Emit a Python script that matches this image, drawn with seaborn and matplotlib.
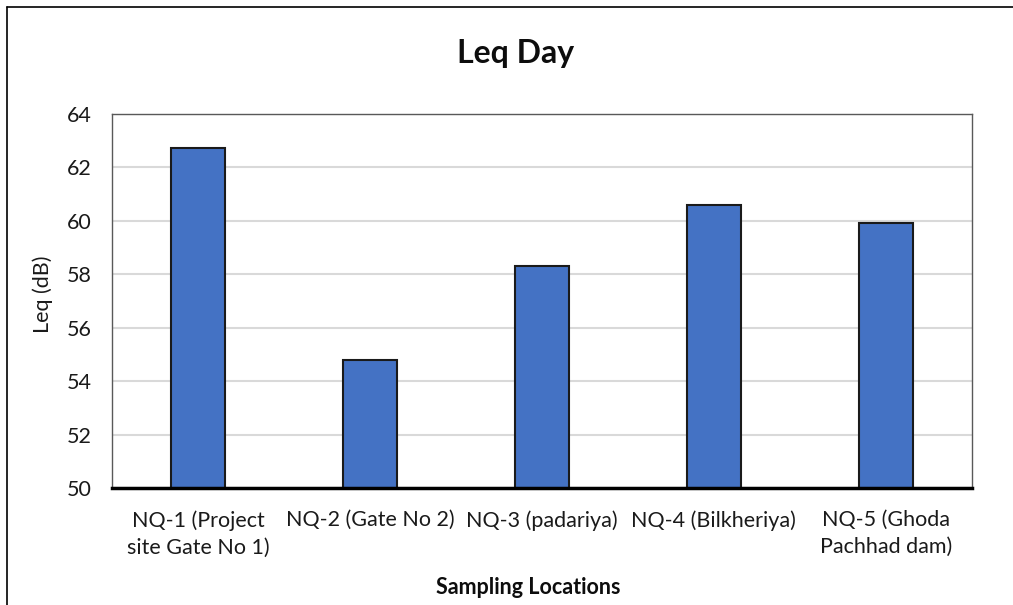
import matplotlib
matplotlib.use("Agg")
import matplotlib.pyplot as plt
from matplotlib.lines import Line2D
import seaborn as sns
import pandas as pd

categories = [
    "NQ-1 (Project\nsite Gate No 1)",
    "NQ-2 (Gate No 2)",
    "NQ-3 (padariya)",
    "NQ-4 (Bilkheriya)",
    "NQ-5 (Ghoda\nPachhad dam)",
]
leq_values = [62.7, 54.8, 58.3, 60.6, 59.9]
y_ticks = [50, 52, 54, 56, 58, 60, 62, 64]

sns.set_theme(style="white")
plt.rcParams["font.family"] = ["Lato", "DejaVu Sans"]

W, H = 1013, 605
fig = plt.figure(figsize=(W / 100, H / 100), dpi=100)
ax = fig.add_axes([112.3 / W, 1 - 488 / H, (971.7 - 112.3) / W, (488 - 113.7) / H])

df = pd.DataFrame({"loc": categories, "leq": leq_values})
sns.barplot(data=df, x="loc", y="leq", ax=ax, color="#4472C4", saturation=1,
            width=0.314, edgecolor="#1a1a1a", linewidth=1.5, zorder=3)

ax.set_ylim(50, 64)
ax.set_yticks(y_ticks)
ax.set_xlim(-0.5, len(categories) - 0.5)
ax.yaxis.grid(True, color="#d9d9d9", linewidth=1.5, zorder=0)
ax.set_axisbelow(True)

for s in ["left", "top", "right"]:
    ax.spines[s].set_color("#595959")
    ax.spines[s].set_linewidth(1.0)
ax.spines["bottom"].set_color("black")
ax.spines["bottom"].set_linewidth(2.5)
ax.spines["bottom"].set_zorder(5)

ax.tick_params(axis="y", length=0, pad=15, labelsize=15.5, labelcolor="#1a1a1a")
ax.tick_params(axis="x", length=0, pad=16, labelsize=15.5, labelcolor="#1a1a1a")
for lbl in ax.get_xticklabels():
    lbl.set_linespacing(1.42)
    lbl.set_ha("center")

ax.set_xlabel("")
ax.set_ylabel("")

fig.text(43 / W, 1 - 294 / H, "Leq (dB)", rotation=90, ha="center", va="center",
         fontsize=15.5, color="#1a1a1a")
fig.text(528 / W, 1 - 587 / H, "Sampling Locations", ha="center", va="center",
         fontsize=15.5, fontweight="bold", color="#0d0d0d")
fig.text(515.5 / W, 1 - 54 / H, "Leq Day", ha="center", va="center",
         fontsize=23, fontweight="bold", color="#0d0d0d")

# outer chart border (left and top visible)
fig.add_artist(Line2D([7.3 / W, 7.3 / W], [0, 1 - 7.3 / H], color="black", linewidth=1.2,
                      transform=fig.transFigure))
fig.add_artist(Line2D([7.3 / W, 1], [1 - 7.3 / H, 1 - 7.3 / H], color="black", linewidth=1.2,
                      transform=fig.transFigure))

fig.savefig("out.png", dpi=100)
